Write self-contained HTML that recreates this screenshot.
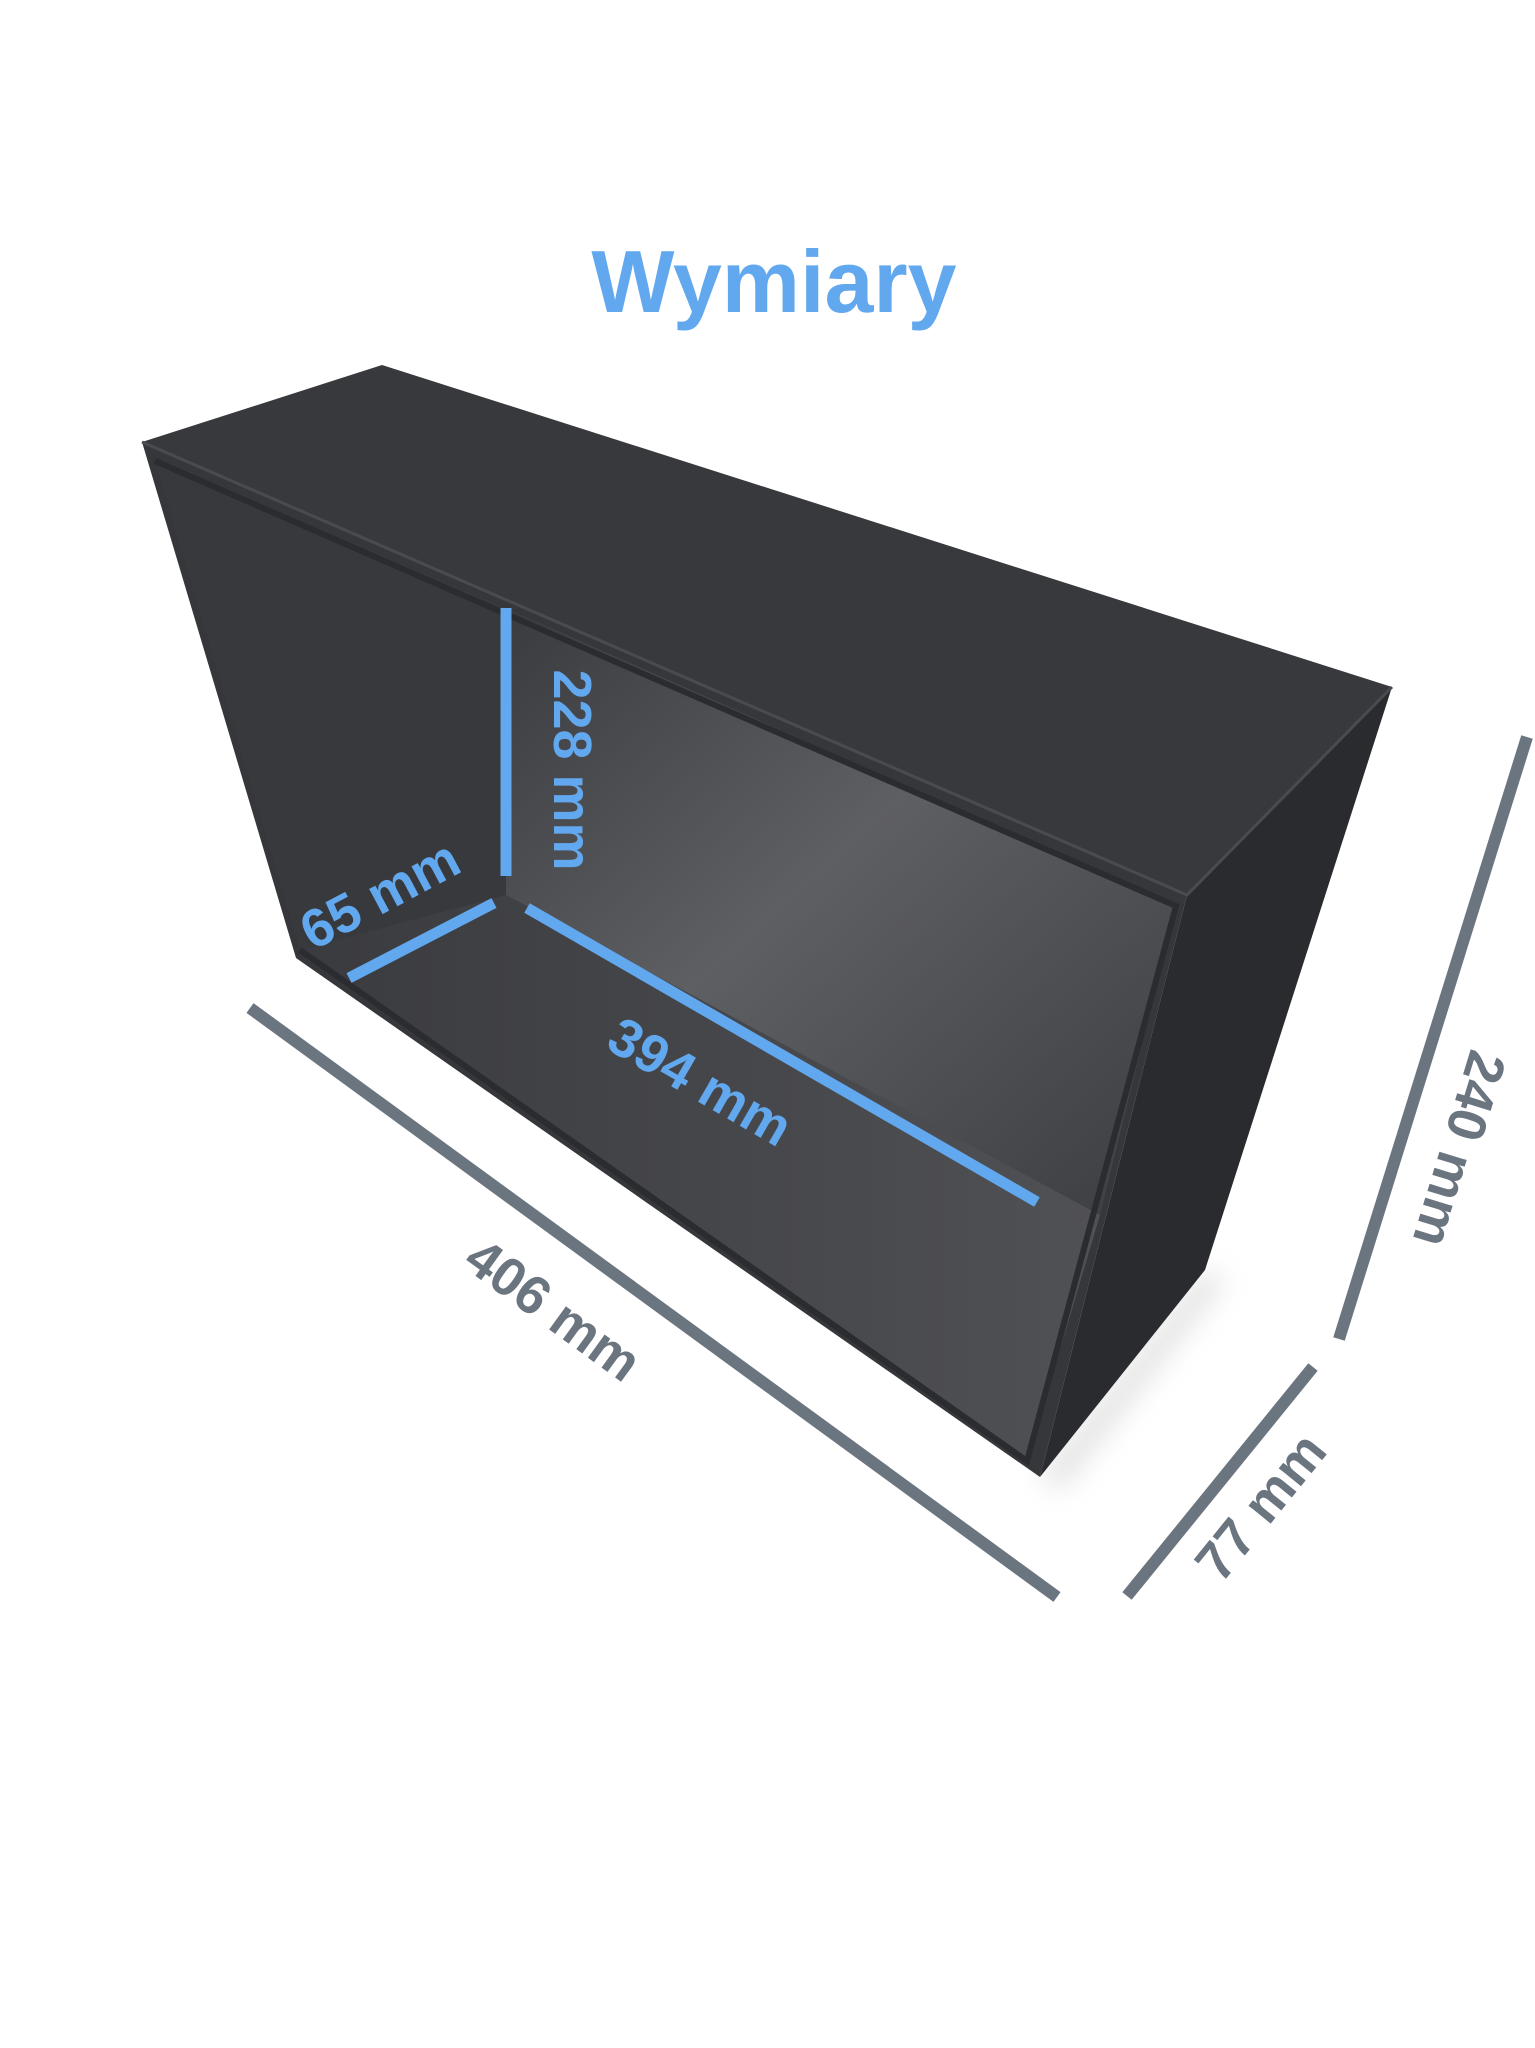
<!DOCTYPE html>
<html><head><meta charset="utf-8"><style>
html,body{margin:0;padding:0;background:#fff;width:1535px;height:2048px;overflow:hidden}
text{font-family:"Liberation Sans",sans-serif;font-weight:bold}
</style></head><body>
<svg width="1535" height="2048" viewBox="0 0 1535 2048" xmlns="http://www.w3.org/2000/svg">
<defs>
<linearGradient id="back" x1="0" y1="0" x2="1" y2="1">
<stop offset="0" stop-color="#3a3b3f"/><stop offset="0.45" stop-color="#5e5f63"/><stop offset="1" stop-color="#3c3d41"/>
</linearGradient>
<linearGradient id="floor" x1="0" y1="0" x2="1" y2="0">
<stop offset="0" stop-color="#3a3b3f"/><stop offset="1" stop-color="#505155"/>
</linearGradient>
<filter id="sh" x="-10%" y="-10%" width="130%" height="130%"><feGaussianBlur stdDeviation="14"/></filter>
</defs>
<rect width="1535" height="2048" fill="#fff"/>
<text x="774" y="312" font-size="88" fill="#62a8ee" text-anchor="middle">Wymiary</text>
<polygon points="1040,1477 1205,1270 1225,1280 1060,1490" fill="#999" opacity="0.3" filter="url(#sh)"/>
<!-- right face -->
<polygon points="1392,687 1187,895 1040,1477 1205,1270" fill="#2a2b2f"/>
<!-- front face outer frame -->
<polygon points="142,442 1187,895 1040,1477 296,958" fill="#36373b"/>
<!-- left wall -->
<polygon points="155,461 506,608 506,895 300,950" fill="#38393d"/>
<!-- back wall -->
<polygon points="506,608 1176,906 1100,1215 506,895" fill="url(#back)"/>
<!-- floor -->
<polygon points="300,950 506,895 1100,1215 1027,1461" fill="url(#floor)"/>
<polyline points="155,461 1176,906 1027,1461 300,950" fill="none" stroke="#2b2c30" stroke-width="6"/>
<!-- top face -->
<polygon points="142,442 382,365 1392,687 1187,895" fill="#38393d"/>
<polyline points="142,442 1187,895 1392,687" fill="none" stroke="#4a4b4f" stroke-width="3"/>
<g stroke="#62a8ee" stroke-width="11">
<line x1="506" y1="608" x2="506" y2="876"/>
<line x1="349" y1="978" x2="494" y2="903"/>
<line x1="527" y1="908" x2="1037" y2="1202"/>
</g>
<g stroke="#6b7580" stroke-width="12">
<line x1="250" y1="1008" x2="1057" y2="1597"/>
<line x1="1527" y1="737" x2="1339" y2="1339"/>
<line x1="1313" y1="1367" x2="1127" y2="1596"/>
</g>
<g font-size="54" text-anchor="middle" dominant-baseline="central">
<text fill="#62a8ee" transform="translate(572,770) rotate(90)">228 mm</text>
<text fill="#62a8ee" transform="translate(380,895) rotate(-28)">65 mm</text>
<text fill="#62a8ee" transform="translate(700,1082) rotate(30)">394 mm</text>
<text fill="#6b7580" transform="translate(553,1310) rotate(36)">406 mm</text>
<text fill="#6b7580" transform="translate(1459,1149) rotate(107)">240 mm</text>
<text fill="#6b7580" transform="translate(1261,1507) rotate(-51)">77 mm</text>
</g>
</svg>
</body></html>
